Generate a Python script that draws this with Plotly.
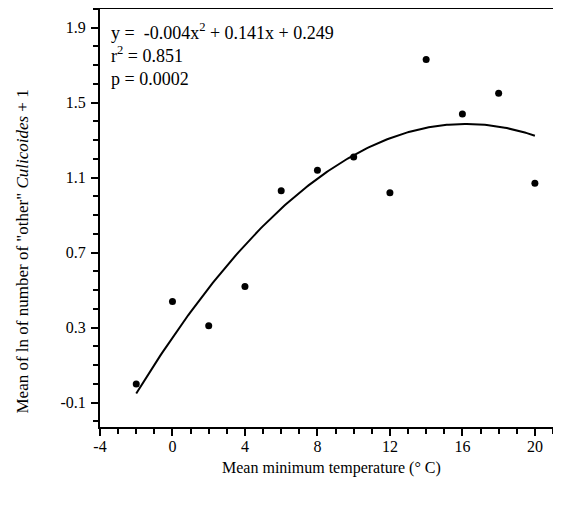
import numpy as np
import plotly.graph_objects as go

# Mean minimum temperature vs mean ln(count+1) of "other" Culicoides
temp = [-2, 0, 2, 4, 6, 8, 10, 12, 14, 16, 18, 20]
ln_count = [0.00, 0.44, 0.31, 0.52, 1.03, 1.14, 1.21, 1.02, 1.73, 1.44, 1.55, 1.07]

x_ticks = [-4, 0, 4, 8, 12, 16, 20]
y_ticks = [-0.1, 0.3, 0.7, 1.1, 1.5, 1.9]

# quadratic regression curve through the points
coef = np.polyfit(temp, ln_count, 2)
xs = np.linspace(min(temp), max(temp), 200)
ys = np.polyval(coef, xs)

serif = "Liberation Serif, Times New Roman, serif"
font = dict(family=serif, color="black", size=16)

fig = go.Figure()
fig.add_trace(go.Scatter(x=xs, y=ys, mode="lines",
                         line=dict(color="black", width=2), hoverinfo="skip"))
fig.add_trace(go.Scatter(x=temp, y=ln_count, mode="markers",
                         marker=dict(color="black", size=7)))

fig.add_annotation(
    text="y =  -0.004x<sup>2</sup> + 0.141x + 0.249<br>r<sup>2</sup> = 0.851<br>p = 0.0002",
    xref="paper", yref="paper", x=0.02, y=0.978, xanchor="left", yanchor="top",
    align="left", showarrow=False, font=dict(family=serif, color="black", size=18))

# axis titles placed as annotations so the margins stay fixed
fig.add_annotation(text="Mean minimum temperature (° C)",
                   xref="paper", yref="paper", x=0.51, y=-0.098, yanchor="middle",
                   showarrow=False, font=font)
fig.add_annotation(text='Mean of ln of number of "other" <i>Culicoides</i> + 1',
                   xref="paper", yref="paper", x=-0.172, y=0.42, textangle=-90,
                   xanchor="center", yanchor="middle", showarrow=False,
                   font=dict(family=serif, color="black", size=17))

# page body has an 8px margin, so the figure is sized 8px smaller
fig.update_layout(
    width=553, height=498,
    margin=dict(l=92, r=8, t=1, b=79),
    plot_bgcolor="white", paper_bgcolor="white",
    showlegend=False, font=font,
)
fig.update_xaxes(
    range=[-4, 21], tickvals=x_ticks, ticktext=[str(v) for v in x_ticks],
    ticks="outside", ticklen=7, tickwidth=2, tickcolor="black",
    minor=dict(dtick=1, ticks="outside", ticklen=5, tickwidth=1.5, tickcolor="black"),
    showline=True, linecolor="black", linewidth=2, mirror=True,
    showgrid=False, zeroline=False, automargin=False, ticklabelstandoff=-3,
)
fig.update_yaxes(
    range=[-0.23, 2.0], tickvals=y_ticks, ticktext=[f"{v:.1f}" for v in y_ticks],
    ticks="outside", ticklen=7, tickwidth=2, tickcolor="black",
    minor=dict(dtick=0.1, tick0=-0.1, ticks="outside", ticklen=5, tickwidth=1.5, tickcolor="black"),
    showline=True, linecolor="black", linewidth=2, mirror=True,
    showgrid=False, zeroline=False, automargin=False, ticklabelstandoff=2,
)

fig.write_html("out.html")
